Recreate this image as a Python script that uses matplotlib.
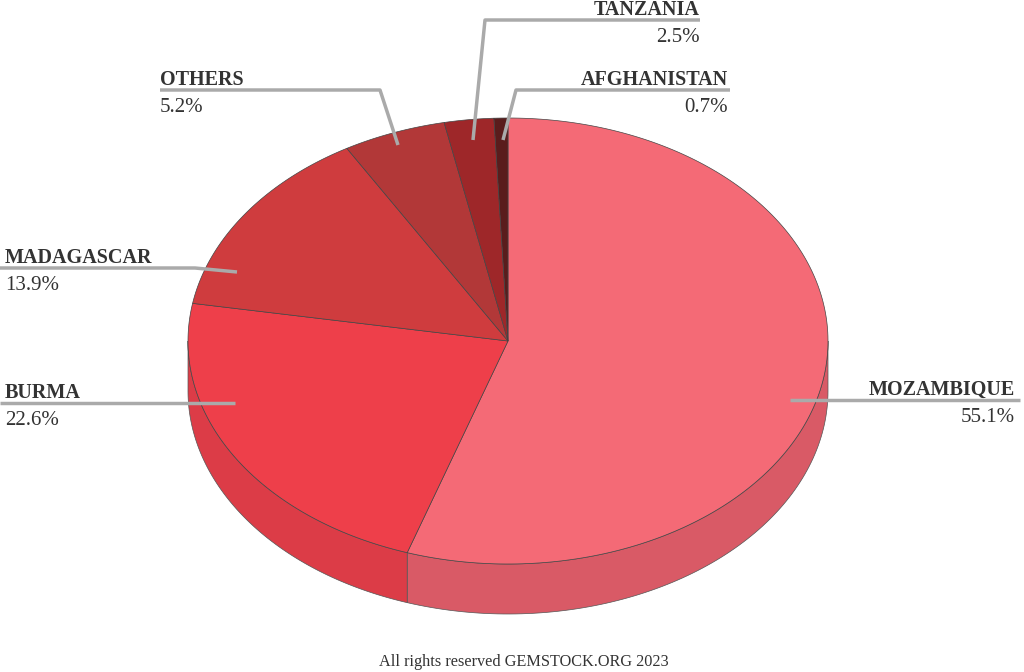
import numpy as np
import matplotlib
matplotlib.use("Agg")
import matplotlib.pyplot as plt
from matplotlib.patches import Polygon

labels = ["MOZAMBIQUE", "BURMA", "MADAGASCAR", "OTHERS", "TANZANIA", "AFGHANISTAN"]
values = [55.1, 22.6, 13.9, 5.2, 2.5, 0.7]
top_colors = ["#F46A76", "#EE3F4A", "#CF3C3E", "#B23838", "#9E2729", "#5A1C1C"]
side_colors = ["#D95A66", "#DC3C47", "#B83436", "#9A3030", "#8A2023", "#4A1616"]

cx, cy, rx, ry, depth = 508, 341, 320, 223, 50

fig = plt.figure(figsize=(10.24, 6.72), dpi=100)
ax = fig.add_axes([0, 0, 1, 1])
ax.set_xlim(0, 1024); ax.set_ylim(672, 0); ax.axis("off")

def pt(t):
    return cx + rx*np.cos(np.radians(t)), cy - ry*np.sin(np.radians(t))

total = sum(values)
starts = []
a = 90.0
for v in values:
    e = a - v/total*360
    starts.append((a, e)); a = e

for (s, e), c in zip(starts, side_colors):
    lo, hi = min(s, e), max(s, e)
    for off in (0, -360, 360):
        l, h = lo+off, hi+off
        fl, fh = max(l, -180), min(h, 0)
        if fh > fl:
            ts = np.linspace(fl, fh, 100)
            xs, ys = pt(ts)
            pts = np.column_stack([np.r_[xs, xs[::-1]], np.r_[ys, ys[::-1]+depth]])
            ax.add_patch(Polygon(pts, closed=True, fc=c, ec="#555555", lw=0.5))

for (s, e), c in zip(starts, top_colors):
    ts = np.linspace(s, e, 200)
    xs, ys = pt(ts)
    pts = np.column_stack([np.r_[cx, xs], np.r_[cy, ys]])
    ax.add_patch(Polygon(pts, closed=True, fc=c, ec="#444444", lw=0.5))

lc = "#AAAAAA"
lw = 2.5
font = "Liberation Serif"
def lab(path, name, pct, tx, ha):
    xs, ys = zip(*path)
    ly = ys[-1]
    ax.plot(xs, ys, color=lc, lw=lw, solid_capstyle="butt")
    ax.text(tx, ly-5, name, ha=ha, va="baseline", fontsize=14.5, fontweight="bold", color="#333333", family=font)
    ax.text(tx, ly+8, pct, ha=ha, va="top", fontsize=15, color="#333333", family=font)

lab([(790, 400), (1020, 400)], labels[0], "55.1%", 1015, "right")
lab([(235, 403), (0, 403)], labels[1], "22.6%", 5, "left")
lab([(237, 272), (195, 268), (0, 268)], labels[2], "13.9%", 5, "left")
lab([(398, 145), (380, 90), (160, 90)], labels[3], "5.2%", 160, "left")
lab([(473, 140), (485, 20), (700, 20)], labels[4], "2.5%", 700, "right")
lab([(503, 140), (516, 90), (730, 90)], labels[5], "0.7%", 728, "right")

ax.text(524, 662, "All rights reserved GEMSTOCK.ORG 2023", ha="center", va="center", fontsize=11.7, color="#333333", family=font)
fig.savefig("out.png", dpi=100)
